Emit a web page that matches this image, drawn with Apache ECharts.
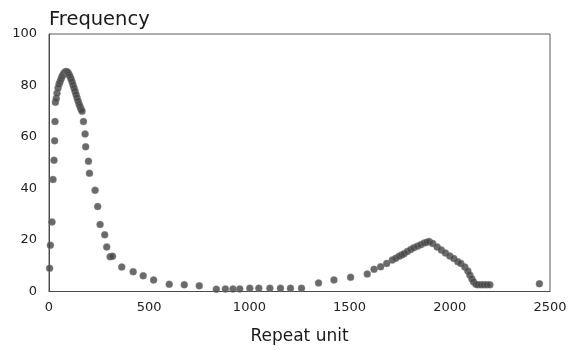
<!DOCTYPE html>
<html>
<head>
<meta charset="utf-8">
<script src="https://cdn.jsdelivr.net/npm/echarts@6/dist/echarts.min.js"></script>
<style>html,body{margin:0;padding:0;background:#fff;}#c{width:570px;height:350px;}</style>
</head>
<body>
<div id="c"></div>
<script>
// Repeat unit (x) values
const repeatUnits = [
  3, 7, 15, 20, 25, 28, 30, 32,
  36, 40, 45, 50, 55, 60, 65, 70, 75, 80, 85, 90, 95, 100, 105, 110, 115, 120, 125, 130, 135, 140, 145, 150, 155, 160, 165,
  172, 180, 183, 197, 202, 230, 243, 255, 278, 288, 305, 317, 363, 420, 470, 522, 600, 675, 750,
  835, 880, 918, 952, 1002, 1047, 1102, 1155, 1205, 1260, 1345, 1422, 1505, 1588,
  1622, 1655, 1685, 1713, 1730, 1747, 1760, 1772, 1788, 1805, 1820, 1838, 1855, 1872, 1885, 1897,
  1915, 1937, 1958, 1978, 2000, 2020, 2040, 2055, 2075, 2090, 2100, 2110, 2118, 2130, 2140, 2155, 2170, 2185, 2200,
  2447
];
// Frequency (y) values
const frequencies = [
  9, 18, 27, 43.5, 51, 58.5, 66, 73.5,
  75, 77, 79, 80.5, 81.5, 82.5, 83.5, 84.2, 84.8, 85.2, 85.4, 85.3, 85, 84.3, 83.5, 82.5, 81.5, 80.2, 79, 77.8, 76.5, 75.2, 74, 72.8, 71.8, 70.8, 70,
  66, 61.2, 56.2, 50.6, 45.9, 39.3, 33, 26, 22, 17.3, 13.5, 13.7, 9.5, 7.7, 6.1, 4.5, 2.8, 2.6, 2.2,
  0.9, 1, 1, 1, 1.3, 1.3, 1.3, 1.3, 1.3, 1.3, 3.3, 4.5, 5.5, 6.8,
  8.6, 9.6, 10.9, 12.2, 12.9, 13.7, 14.2, 14.7, 15.5, 16.3, 17, 17.6, 18.2, 18.8, 19.1, 19.4,
  18.6, 17.3, 16.1, 15, 13.8, 12.8, 11.6, 10.9, 9.5, 8, 6.4, 5, 3.8, 2.8, 2.6, 2.6, 2.6, 2.6, 2.6,
  3
];
const xTicks = [0, 500, 1000, 1500, 2000, 2500];
const yTicks = [0, 20, 40, 60, 80, 100];

const points = repeatUnits.map((x, i) => [x, frequencies[i]]);
const chart = echarts.init(document.getElementById('c'), null, {renderer: 'canvas'});
const font = 'DejaVu Sans';
chart.setOption({
  animation: false,
  backgroundColor: '#ffffff',
  grid: {left: 49, top: 34, width: 501, height: 261, show: true, borderColor: '#5a5a5a', borderWidth: 1},
  xAxis: {
    type: 'value', min: xTicks[0], max: xTicks[xTicks.length - 1], interval: 500,
    name: 'Repeat unit', nameLocation: 'middle', nameGap: 45,
    nameTextStyle: {fontFamily: font, fontSize: 17, color: '#1a1a1a', verticalAlign: 'middle'},
    axisLine: {show: true, onZero: false, lineStyle: {color: '#4a4a4a', width: 1}},
    axisTick: {show: false}, splitLine: {show: false},
    axisLabel: {fontFamily: font, fontSize: 13, color: '#222', margin: 10, formatter: v => String(v)}
  },
  yAxis: {
    type: 'value', min: yTicks[0], max: yTicks[yTicks.length - 1], interval: 20,
    name: 'Frequency', nameLocation: 'end', nameGap: 14,
    nameTextStyle: {fontFamily: font, fontSize: 19.5, color: '#1a1a1a', align: 'left', verticalAlign: 'middle'},
    axisLine: {show: true, lineStyle: {color: '#4a4a4a', width: 1}},
    axisTick: {show: false}, splitLine: {show: false},
    axisLabel: {fontFamily: font, fontSize: 13, color: '#222', margin: 12, formatter: v => String(v)}
  },
  series: [{
    type: 'scatter', data: points, symbol: 'circle', symbolSize: 7,
    itemStyle: {color: '#454545', borderColor: '#8a8a8a', borderWidth: 0.5}
  }]
});
</script>
</body>
</html>
